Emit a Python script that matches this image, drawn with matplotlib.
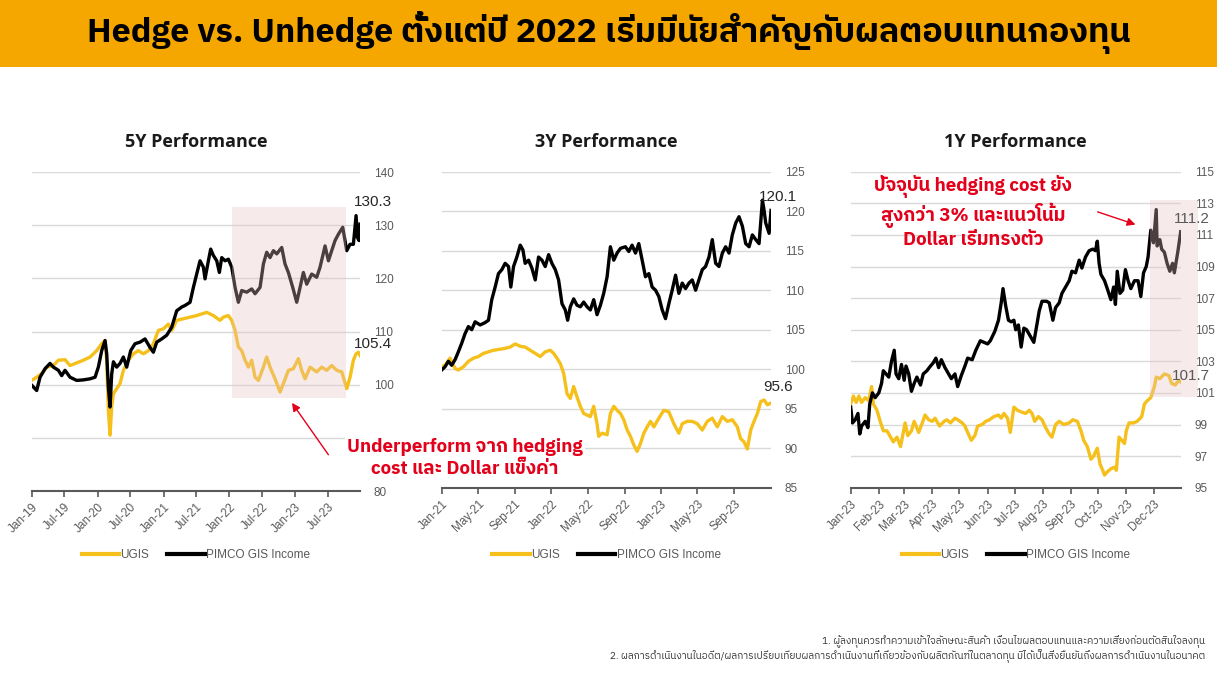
import matplotlib
matplotlib.use('Agg')
import matplotlib.pyplot as plt
import matplotlib.dates as mdates
from matplotlib.patches import Rectangle
from matplotlib.ticker import FuncFormatter
from matplotlib import font_manager as fm
from matplotlib.ft2font import FT2Font
import numpy as np
import pandas as pd

# ---------------- data ----------------
# 5Y panel, x = months since 1 Jan 2019
y5_ugis_m = [0, 0.91, 1.82, 2.73, 3.95, 4.86, 6.07, 6.98, 8.2, 9.41,
             10.63, 11.84, 12.75, 13.36, 13.66, 13.96, 14.27, 14.57, 14.88, 15.48,
             16.09, 16.7, 17.61, 18.52, 19.43, 20.34, 21.25, 22.16, 23.07, 23.98,
             24.89, 25.5, 26.41, 27.63, 28.84, 30.05, 30.97, 31.88, 33.09, 34.3,
             34.91, 35.82, 36.43, 37.04, 37.64, 38.25, 38.86, 39.47, 40.07, 40.68,
             41.29, 42.2, 42.8, 43.41, 44.32, 45.23, 45.84, 46.75, 47.66, 48.57,
             49.18, 49.79, 50.7, 51.91, 52.82, 53.73, 54.64, 55.56, 56.47, 57.38,
             57.98, 58.59, 59.08, 59.5, 59.8]
y5_ugis = [100.8, 101.4, 102.1, 103.3, 103.6, 104.6, 104.7, 103.6, 104.1, 104.6,
           105.2, 106.4, 107.7, 108.3, 104.6, 95.2, 90.5, 95.8, 98.3, 99.25,
           100.2, 102.7, 104.6, 105.8, 106.4, 105.8, 106.4, 107.7, 110.2, 110.5,
           111.4, 110.2, 112.1, 112.4, 112.7, 113, 113.3, 113.6, 113, 112.1,
           112.7, 113, 112.1, 110.2, 107.1, 106.4, 104.6, 103.3, 104.6, 101.4,
           100.8, 103.3, 105.2, 103.3, 101.1, 98.6, 100.2, 102.7, 103, 104.9,
           102.7, 101.1, 103.3, 102.4, 103.3, 102.7, 103.6, 102.7, 102.4, 99.25,
           101.4, 104.6, 105.8, 106.1, 105.5]
y5_pimco_m = [0, 0.91, 1.52, 2.43, 3.34, 3.95, 4.86, 5.46, 6.07, 6.98,
              8.2, 9.41, 10.63, 11.54, 12.14, 12.75, 13.36, 13.66, 13.96, 14.27,
              14.57, 14.88, 15.48, 16.09, 16.7, 17.3, 18.03, 18.82, 19.73, 20.64,
              21.55, 22.16, 22.77, 23.68, 24.59, 25.5, 26.41, 27.32, 27.93, 28.84,
              29.45, 30.05, 30.66, 31.27, 31.57, 32.18, 32.6, 33.09, 33.7, 34.18,
              34.61, 35.22, 35.82, 36.43, 37.04, 37.64, 38.25, 39.16, 40.07, 40.68,
              41.59, 42.2, 42.8, 43.41, 44.02, 44.63, 45.54, 46.14, 46.75, 47.54,
              48.27, 48.88, 49.48, 50.09, 51, 51.91, 52.52, 53.43, 54.04, 54.64,
              55.25, 55.86, 56.65, 57.38, 57.98, 58.59, 59.08, 59.32, 59.62, 59.8]
y5_pimco = [99.9, 98.9, 101.4, 103, 104, 103.3, 102.7, 101.7, 102.7, 101.4,
            100.8, 100.9, 101.1, 101.4, 103.3, 106.4, 108.3, 105.8, 99.6, 95.8,
            102, 104.3, 103.3, 104, 105.2, 103.3, 106.4, 107.7, 108, 108.6,
            107, 106.1, 108, 108.6, 109.3, 110.8, 113.9, 114.6, 114.9, 115.5,
            118.3, 120.8, 123.3, 122.1, 119.9, 123.3, 125.5, 124.3, 123.3, 121.1,
            123.9, 123.3, 123.6, 122.1, 118.3, 115.5, 117.7, 117.4, 118, 117.1,
            118.3, 122.7, 124.9, 123.9, 125.2, 124.6, 125.8, 122.7, 121.1, 118.3,
            115.5, 118.3, 121.1, 118.9, 120.8, 120.2, 122.1, 126.1, 123.3, 125.2,
            127.1, 128.3, 129.6, 125.2, 126.4, 126.4, 131.8, 127.7, 127.1, 130.2]

# 3Y panel, x = months since 1 Jan 2021
y3_ugis_m = [0, 0.36, 0.91, 1.46, 1.82, 2.37, 2.92, 3.47, 4.01, 4.56,
             5.11, 5.66, 6.2, 6.75, 7.48, 8.03, 8.58, 9.12, 9.67, 10.22,
             10.77, 11.31, 11.86, 12.23, 12.59, 12.96, 13.32, 13.69, 14.05, 14.42,
             14.78, 15.15, 15.51, 15.88, 16.24, 16.61, 16.97, 17.15, 17.52, 18.07,
             18.43, 18.8, 19.16, 19.53, 19.89, 20.26, 20.62, 20.99, 21.35, 21.72,
             22.08, 22.45, 22.81, 23.18, 23.72, 24.27, 24.82, 25.36, 25.91, 26.28,
             26.82, 27.37, 27.92, 28.47, 29.01, 29.56, 30.11, 30.66, 31.2, 31.75,
             32.3, 32.66, 33.03, 33.39, 33.76, 34.12, 34.49, 34.85, 35.22, 35.58,
             35.95]
y3_ugis = [100.3, 100.5, 101.4, 100.1, 99.9, 100.3, 101, 101.4, 101.6, 102,
           102.2, 102.4, 102.5, 102.6, 102.8, 103.2, 102.9, 102.8, 102.4, 102,
           101.6, 102.2, 102.4, 102, 101.4, 100.7, 99.5, 96.9, 96.3, 97.8,
           96.5, 95.3, 94.4, 94.2, 94, 95.3, 93.1, 91.5, 91.9, 91.7,
           94.4, 95.3, 94.8, 94.4, 93.6, 92.3, 91.5, 90.4, 89.6, 90.6,
           91.9, 92.7, 93.4, 92.7, 93.8, 94.8, 94.6, 93.1, 91.9, 93.1,
           93.4, 93.4, 93.1, 92.3, 93.4, 93.8, 92.7, 94, 93.4, 93.6,
           92.7, 91.2, 90.8, 89.9, 92.3, 93.4, 94.4, 95.9, 96.1, 95.5,
           95.7]
y3_pimco_m = [0, 0.36, 0.73, 1.09, 1.46, 1.82, 2.19, 2.55, 2.92, 3.28,
              3.65, 4.2, 4.74, 5.11, 5.47, 5.84, 6.2, 6.57, 6.93, 7.3,
              7.55, 7.85, 8.21, 8.58, 8.87, 9.12, 9.49, 9.85, 10.22, 10.58,
              10.95, 11.31, 11.68, 12.04, 12.41, 12.77, 13.14, 13.5, 13.76, 14.05,
              14.42, 14.78, 15.15, 15.51, 15.88, 16.24, 16.61, 16.97, 17.34, 17.7,
              18.07, 18.43, 18.8, 19.16, 19.53, 20.07, 20.44, 20.8, 21.17, 21.53,
              21.9, 22.26, 22.63, 22.99, 23.36, 23.72, 24.09, 24.45, 24.82, 25.18,
              25.55, 25.91, 26.28, 26.64, 27.01, 27.37, 27.74, 28.1, 28.47, 28.83,
              29.2, 29.56, 29.93, 30.29, 30.66, 31.02, 31.39, 31.75, 32.12, 32.48,
              32.85, 33.21, 33.58, 33.94, 34.31, 34.67, 35.04, 35.22, 35.4, 35.77,
              35.98]
y3_pimco = [99.9, 100.3, 101, 100.5, 101.2, 102.2, 103.3, 104.5, 105.4, 105,
            106, 105.6, 105.9, 106.2, 108.8, 110.4, 112.1, 112.6, 113.4, 113,
            110.4, 113, 114.2, 115.7, 115.1, 113.4, 113.8, 112.8, 111.3, 114.2,
            113.8, 113, 114.5, 113.4, 112.6, 111.3, 108.3, 107.5, 106.2, 107.9,
            108.9, 108.1, 107.9, 108.5, 107.9, 107.5, 108.8, 106.9, 108.1, 109.6,
            111.7, 115.5, 113.8, 114.7, 115.3, 115.5, 114.9, 115.7, 114.7, 115.9,
            113.8, 111.7, 112.1, 110.4, 110, 109.2, 107.5, 106.4, 108.3, 110,
            111.9, 109.6, 110.9, 110.2, 110.9, 111.3, 110, 111.3, 112.6, 113,
            114.2, 116.4, 113.4, 113, 114.7, 115.5, 114.7, 117, 118.5, 119.3,
            118.1, 115.9, 115.5, 117, 116.4, 115.9, 121.4, 120.1, 118.5, 117.2,
            120.1]

# 1Y panel, x = days since 1 Jan 2023
y1_ugis_d = [0, 3, 6, 9, 12, 16, 20, 23, 25, 29,
             32, 36, 40, 44, 47, 51, 55, 57, 60, 63,
             67, 70, 75, 79, 82, 86, 90, 93, 98, 103,
             106, 110, 115, 118, 123, 126, 129, 133, 137, 140,
             145, 149, 153, 158, 163, 166, 169, 173, 176, 180,
             184, 188, 193, 197, 200, 203, 207, 211, 215, 219,
             222, 226, 230, 235, 241, 245, 250, 254, 257, 261,
             265, 268, 272, 275, 278, 280, 283, 287, 291, 293,
             296, 299, 302, 304, 307, 312, 316, 321, 324, 327,
             331, 335, 337, 341, 346, 351, 354, 358, 362, 364]
y1_ugis = [100.3, 100.8, 100.4, 100.8, 100.4, 100.7, 100.5, 101.4, 100.3, 99.9,
           99.3, 98.6, 98.6, 98.2, 97.9, 98.2, 97.6, 98.2, 99.1, 98.3,
           98.6, 99.2, 98.5, 99.1, 99.6, 99.3, 99.2, 99.4, 98.9, 99.2,
           99.3, 99.1, 99.4, 99.3, 99.1, 98.9, 98.5, 98, 98.3, 98.9,
           99, 99.2, 99.3, 99.5, 99.6, 99.4, 99.7, 99.4, 98.5, 100.1,
           99.9, 99.8, 99.7, 99.9, 99.7, 99.2, 99.5, 99.3, 98.8, 98.4,
           98.2, 99, 99.2, 99, 99.1, 99.3, 99.2, 98.6, 98, 97.6,
           96.8, 97, 97.5, 96.5, 96.1, 95.8, 96, 96.2, 96.3, 96.1,
           98.2, 98, 97.8, 98.6, 99.1, 99.1, 99.2, 99.5, 100.3, 100.5,
           100.7, 101.4, 102, 101.9, 102.2, 102.1, 101.6, 101.5, 101.8, 101.7]
y1_pimco_d = [0, 2, 5, 8, 10, 12, 16, 19, 21, 24,
              27, 31, 34, 36, 39, 42, 45, 48, 50, 53,
              56, 59, 61, 64, 67, 70, 73, 77, 80, 84,
              88, 91, 94, 97, 100, 104, 107, 111, 115, 118,
              122, 126, 129, 134, 138, 143, 147, 151, 154, 159,
              163, 166, 168, 171, 174, 177, 180, 182, 185, 188,
              191, 194, 198, 202, 205, 208, 211, 216, 219, 223,
              226, 230, 233, 237, 241, 244, 248, 252, 255, 259,
              263, 267, 270, 272, 274, 276, 280, 283, 287, 290,
              292, 294, 297, 300, 303, 306, 309, 313, 317, 320,
              323, 326, 328, 331, 334, 337, 338, 341, 343, 346,
              349, 352, 355, 357, 361, 364]
y1_pimco = [100.1, 99.1, 99.3, 99.7, 98.4, 98.9, 99.2, 98.8, 100.3, 101,
            100.7, 101, 101.6, 102.4, 102.2, 102, 103, 103.7, 102.2, 101.9,
            102.8, 101.8, 102.7, 102.2, 101.1, 101.6, 102, 101.5, 102.2, 102.4,
            102.7, 102.9, 103.2, 102.6, 103.1, 102.6, 102.3, 101.9, 102.2, 101.4,
            102.1, 102.7, 103.2, 103.1, 103.7, 104.3, 104.2, 104.1, 104.3, 104.9,
            105.6, 106.7, 107.6, 106.5, 105.6, 105.5, 105.6, 105, 105.3, 103.9,
            105.1, 105, 104.6, 104.2, 105.2, 106.2, 106.8, 106.8, 106.7, 105.6,
            106.4, 106.7, 107.3, 107.7, 108.1, 108.7, 108.6, 109.4, 108.9, 109.6,
            110, 110.1, 110, 110.6, 109.2, 108.5, 108.1, 107.6, 106.9, 107.7,
            106.6, 108.7, 107.3, 107.5, 108.8, 108.1, 107.6, 108.1, 108.1, 107.1,
            108.6, 109, 109.6, 111.3, 110.5, 112.6, 110.3, 110.7, 110.1, 109.9,
            109.2, 108.7, 109.2, 108.6, 110, 111.2]

last_labels = {'5Y': ('130.3', '105.4'), '3Y': ('120.1', '95.6'), '1Y': ('111.2', '101.7')}

title = 'Hedge vs. Unhedge ตั้งแต่ปี 2022 เริ่มมีนัยสำคัญกับผลตอบแทนกองทุน'
note_5y = 'Underperform จาก hedging\ncost และ Dollar แข็งค่า'
note_1y = 'ปัจจุบัน hedging cost ยัง\nสูงกว่า 3% และแนวโน้ม\nDollar เริ่มทรงตัว'
foot1 = '1. ผู้ลงทุนควรทำความเข้าใจลักษณะสินค้า เงื่อนไขผลตอบแทนและความเสี่ยงก่อนตัดสินใจลงทุน'
foot2 = '2. ผลการดำเนินงานในอดีต/ผลการเปรียบเทียบผลการดำเนินงานที่เกี่ยวข้องกับผลิตภัณฑ์ในตลาดทุน มิได้เป็นสิ่งยืนยันถึงผลการดำเนินงานในอนาคต'


def find_thai():
    found = []
    for f in fm.fontManager.ttflist:
        try:
            cmap = FT2Font(f.fname).get_charmap()
        except Exception:
            continue
        if 0x0E01 in cmap and f.name not in found:
            found.append(f.name)
    found.sort(key=lambda n: (0 if 'Thai' in n else 1, n))
    return found


thai = find_thai()
THAI = (thai[:1] if thai else []) + ['DejaVu Sans']
LAT = ['Liberation Sans', 'DejaVu Sans']

YEL = '#F5C01C'
GRAY = '#595959'
W, H = 1217.0, 682.0


def months_to_dates(start, m):
    return pd.Timestamp(start) + pd.to_timedelta(np.asarray(m) * 30.4375, unit='D')


def days_to_dates(start, d):
    return pd.Timestamp(start) + pd.to_timedelta(np.asarray(d, dtype=float), unit='D')


fig = plt.figure(figsize=(12.17, 6.82), dpi=100)
fig.patches.append(Rectangle((0, 1 - 67 / H), 1, 67 / H, transform=fig.transFigure,
                             facecolor='#F5A700', edgecolor='none', zorder=0))
fig.text(0.5, 1 - 33 / H, title, ha='center', va='center', fontsize=24.5,
         fontweight='heavy', family=THAI, color='black')


def make_panel(left, right, top, bottom, name, ylo, yhi, ystep, xlo, xhi, ticks,
               ux, uy, px, py, rect, lab_off, lab_color, hide=()):
    ax = fig.add_axes([left / W, 1 - bottom / H, (right - left) / W, (bottom - top) / H])
    ax.plot(ux, uy, color=YEL, lw=2.4, label='UGIS', zorder=3)
    ax.plot(px, py, color='black', lw=2.4, label='PIMCO GIS Income', zorder=3)
    ax.set_xlim(pd.Timestamp(xlo), pd.Timestamp(xhi))
    ax.set_ylim(ylo, yhi)
    ax.set_yticks(np.arange(ylo, yhi + 0.1, ystep))
    ax.yaxis.set_major_formatter(FuncFormatter(
        lambda v, p: '' if round(v) in hide else '%d' % round(v)))
    ax.yaxis.tick_right()
    ax.tick_params(axis='y', length=0, pad=10, labelsize=8.5, labelcolor=GRAY)
    ax.set_xticks(ticks)
    ax.xaxis.set_major_formatter(mdates.DateFormatter('%b-%y'))
    ax.tick_params(axis='x', length=4, width=1.2, color=GRAY, labelsize=8.5,
                   labelcolor=GRAY, direction='out')
    for lab in ax.get_xticklabels():
        lab.set_rotation(45)
        lab.set_ha('right')
        lab.set_rotation_mode('anchor')
        lab.set_family(LAT)
    for lab in ax.get_yticklabels():
        lab.set_family(LAT)
    ax.grid(axis='y', color='#D9D9D9', lw=1)
    ax.set_axisbelow(True)
    for s in ['top', 'left', 'right']:
        ax.spines[s].set_visible(False)
    ax.spines['bottom'].set_color(GRAY)
    ax.spines['bottom'].set_linewidth(1.5)
    ax.text(0.5, 1 + 30 / (bottom - top), name, transform=ax.transAxes, ha='center',
            va='center', fontsize=13, fontweight='bold', family=['Open Sans', 'DejaVu Sans'],
            color='#1a1a1a')
    # shaded window
    x0, x1, y0, y1 = rect
    if x0 is not None:
        r = Rectangle((mdates.date2num(pd.Timestamp(x0)), y0),
                      mdates.date2num(pd.Timestamp(x1)) - mdates.date2num(pd.Timestamp(x0)),
                      y1 - y0, facecolor='#E8C2C2', edgecolor='none', alpha=0.33,
                      zorder=5, clip_on=False)
        ax.add_patch(r)
    # end labels
    top_lab, low_lab = last_labels[name.split()[0]]
    ax.annotate(top_lab, xy=(px[-1], py[-1]), xytext=lab_off[0], textcoords='offset points',
                ha='center', va='center', fontsize=11, family=LAT, color=lab_color,
                annotation_clip=False, zorder=6)
    ax.annotate(low_lab, xy=(ux[-1], uy[-1]), xytext=lab_off[1], textcoords='offset points',
                ha='center', va='center', fontsize=11, family=LAT, color=lab_color,
                annotation_clip=False, zorder=6)
    cx = (left + right) / 2 / W
    ax.legend(loc='center', bbox_to_anchor=(cx, 1 - 555 / H), bbox_transform=fig.transFigure,
              ncol=2, frameon=False, labelcolor=GRAY, handlelength=3.2,
              handletextpad=0.1, columnspacing=1.5, prop={'family': LAT, 'size': 8.5})
    for h in ax.get_legend().get_lines():
        h.set_linewidth(3)
    return ax


ax1 = make_panel(31.7, 360, 172, 491, '5Y Performance', 80, 140, 10,
                 '2019-01-01', '2023-12-26', pd.date_range('2019-01-01', '2023-07-01', freq='6MS'),
                 months_to_dates('2019-01-01', y5_ugis_m), y5_ugis,
                 months_to_dates('2019-01-01', y5_pimco_m), y5_pimco,
                 ('2022-01-17', '2023-10-08', 97.5, 133.4),
                 ((9, 16), (9, 8.5)), '#262626', hide=(90,))
ax2 = make_panel(441.7, 771, 171.7, 487.7, '3Y Performance', 85, 125, 5,
                 '2021-01-01', '2024-01-01', pd.date_range('2021-01-01', '2023-09-01', freq='4MS'),
                 months_to_dates('2021-01-01', y3_ugis_m), y3_ugis,
                 months_to_dates('2021-01-01', y3_pimco_m), y3_pimco,
                 (None, None, None, None),
                 ((5, 10), (5, 11.5)), '#262626')
ax3 = make_panel(850.7, 1180.7, 171.7, 487.7, '1Y Performance', 95, 115, 2,
                 '2023-01-01', '2023-12-31', pd.date_range('2023-01-01', '2023-12-01', freq='MS'),
                 days_to_dates('2023-01-01', y1_ugis_d), y1_ugis,
                 days_to_dates('2023-01-01', y1_pimco_d), y1_pimco,
                 ('2023-11-27', '2024-01-19', 100.75, 113.2),
                 ((8, 9), (7.5, 4.5)), '#595959')

red = '#E3001B'
fig.text(465 / W, 1 - 458 / H, note_5y, ha='center', va='center', fontsize=13.5,
         fontweight='bold', color=red, family=THAI, linespacing=1.25,
         bbox=dict(facecolor='white', edgecolor='none', pad=1.5))
ax1.annotate('', xy=(pd.Timestamp('2022-12-05'), 97.0), xycoords='data',
             xytext=(330 / W, 1 - 457 / H), textcoords='figure fraction',
             arrowprops=dict(arrowstyle='-|>', color=red, lw=1, mutation_scale=12),
             annotation_clip=False)
fig.text(973 / W, 1 - 212 / H, note_1y, ha='center', va='center', fontsize=13.5,
         fontweight='bold', color=red, family=THAI, linespacing=1.25)
ax3.annotate('', xy=(pd.Timestamp('2023-11-14'), 111.6), xycoords='data',
             xytext=(1095 / W, 1 - 211 / H), textcoords='figure fraction',
             arrowprops=dict(arrowstyle='-|>', color=red, lw=1, mutation_scale=12),
             annotation_clip=False)

fig.text(1205 / W, 1 - 641 / H, foot1, ha='right', va='center', fontsize=7.2,
         family=THAI, color='#333333')
fig.text(1205 / W, 1 - 656 / H, foot2, ha='right', va='center', fontsize=7.2,
         family=THAI, color='#333333')

fig.savefig('out.png', dpi=100, facecolor='white')
plt.close()
